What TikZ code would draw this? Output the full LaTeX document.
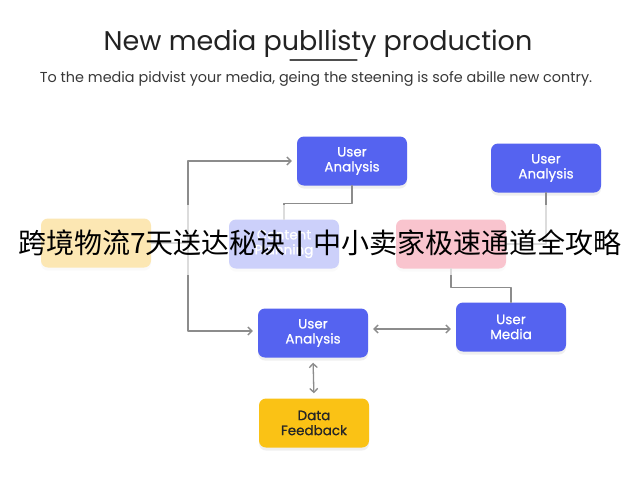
\documentclass[tikz,border=0pt]{standalone}
\usepackage{fontspec}
\setmainfont{Poppins}
\newfontfamily\cardfont[FakeBold=0.6]{Poppins}
\newfontfamily\cjk{Noto Sans CJK SC}
\usetikzlibrary{arrows.meta,calc,shadows}

\definecolor{boxblue}{HTML}{5563F0}
\definecolor{boxred}{HTML}{EC3A5C}
\definecolor{boxgold}{HTML}{F6B000}
\definecolor{feedgold}{HTML}{FAC215}
\definecolor{wiregray}{HTML}{8C8C8C}
\definecolor{inkgray}{HTML}{222222}

\tikzset{
  card/.style={rounded corners=7pt, minimum width=110pt, minimum height=49pt,
    align=center, text=white, font=\cardfont\fontsize{13.5}{15}\selectfont,
    drop shadow={shadow xshift=0pt, shadow yshift=-3pt, opacity=0.12}},
  wire/.style={draw=wiregray, line width=1.3pt},
  flow/.style={-{Straight Barb[length=4pt,width=8pt]}, shorten >=5pt},
  twoway/.style={{Straight Barb[length=4pt,width=8pt]}-{Straight Barb[length=4pt,width=8pt]}, shorten >=5pt, shorten <=5pt}
}

\begin{document}
\begin{tikzpicture}[x=1pt,y=-1pt,line cap=round,line join=round]
  \fill[white] (0,0) rectangle (640,480);
  \useasboundingbox (0,0) rectangle (640,480);

  \node[text=inkgray, font=\fontsize{27}{29}\selectfont] (title) at (318,44) {New media publlisty production};
  \draw[line width=1.2pt, draw=inkgray!80] (290,60) -- (357,60);
  \node[text=inkgray!90, font=\fontsize{14.4}{16}\selectfont] (subtitle) at (316,79)
    {To the media pidvist your media, geing the steening is sofe abille new contry.};

  % blue cards
  \foreach \name/\x/\y/\txt in {uaTop/352/161/User\\Analysis, uaRight/546/168/User\\Analysis,
      content/284/244/Content\\Planning, uaMid/313/333/User\\Analysis, media/511/327/User\\Media}{
    \node[card, fill=boxblue] (\name) at (\x,\y) {\txt};}
  \node[card, fill=boxgold] (plan) at (96,243) {};
  \node[card, fill=boxred] (pinkbox) at (451,244) {};
  \node[card, fill=feedgold, text=black!85] (feedback) at (314,423) {Data\\Feedback};

  \coordinate (split) at (188,243);
  \draw[wire] (plan.east) -- (split);
  \draw[wire, flow] (split) |- (uaTop.west);
  \draw[wire, flow] (split) |- ([yshift=2pt]uaMid.west);
  \draw[wire] (uaTop.south) -- ++(0,18) -| (content.north);
  \draw[wire] (uaRight.south) |- (pinkbox.east);
  \draw[wire] (pinkbox.south) -- ++(0,19) -| (media.north);
  \draw[wire, twoway] ([yshift=-2pt]media.west -| uaMid.east) -- ([yshift=-2pt]media.west);
  \draw[wire, twoway] (uaMid.south) -- (feedback.north);

  % banner across the middle
  \fill[white, opacity=0.7] (0,205) rectangle (640,275);
  \node[font=\cjk\fontsize{28}{28}\selectfont, text=black] (banner) at (320,243)
    {跨境物流7天送达秘诀\hspace{0.35em}{\normalfont|}\hspace{0.35em}中小卖家极速通道全攻略};
\end{tikzpicture}
\end{document}
